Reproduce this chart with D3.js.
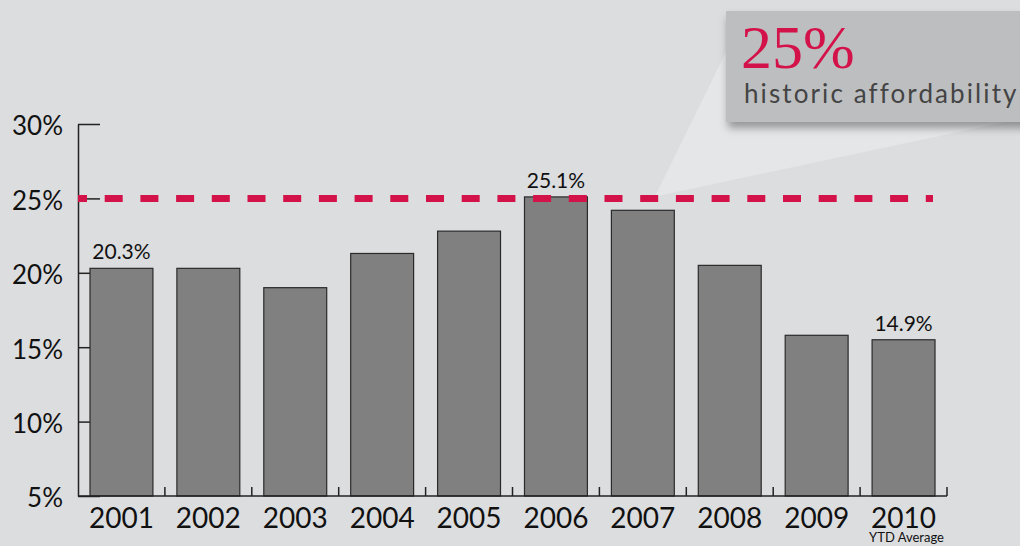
<!DOCTYPE html>
<html>
<head>
<meta charset="utf-8">
<script src="https://cdn.jsdelivr.net/npm/d3@7"></script>
<style>
  body { margin: 0; background: #dcdddf; }
  svg { display: block; }
  text { font-family: "Lato", "Open Sans", sans-serif; fill: #111; }
</style>
</head>
<body>
<script>
const w = 1020, h = 546;

// data
const years = ["2001", "2002", "2003", "2004", "2005", "2006", "2007", "2008", "2009", "2010"];
const values = [20.3, 20.3, 19.0, 21.3, 22.8, 25.1, 24.2, 20.5, 15.8, 15.5];
const valueLabels = {"2001": "20.3%", "2006": "25.1%", "2010": "14.9%"};
const yTicks = [5, 10, 15, 20, 25, 30];
const historic = 25;

const red = "#d4124a";

const svg = d3.select("body")
  .append("svg")
  .attr("width", w)
  .attr("height", h);

svg.append("rect").attr("width", w).attr("height", h).attr("fill", "#dcdddf");

const xScale = d3.scaleBand()
  .domain(years)
  .range([78, 947])
  .paddingInner(0.276)
  .paddingOuter(0.138);

const yScale = d3.scaleLinear()
  .domain([5, 30])
  .range([496, 124]);

// callout wedge pointing at the dashed line
const apex = [655, yScale(historic) - 2];
svg.append("polygon")
  .attr("points", [[726, 52], apex, [1005, 122], [726, 122]].map(p => p.join(",")).join(" "))
  .attr("fill", "#e5e6e8");

// callout box with shadow
const defs = svg.append("defs");
const f = defs.append("filter").attr("id", "shadow").attr("x", "-10%").attr("y", "-10%").attr("width", "130%").attr("height", "150%");
f.append("feDropShadow").attr("dx", 2).attr("dy", 6).attr("stdDeviation", 4).attr("flood-color", "#000").attr("flood-opacity", 0.35);

svg.append("rect")
  .attr("x", 726).attr("y", 11)
  .attr("width", 310).attr("height", 111)
  .attr("fill", "#bdbec0")
  .attr("filter", "url(#shadow)");

svg.append("text")
  .attr("x", 741).attr("y", 68)
  .style("font-family", "'Liberation Serif', 'DejaVu Serif', serif")
  .style("font-size", "62px")
  .style("fill", red)
  .text("25%");

svg.append("text")
  .attr("x", 744).attr("y", 103)
  .style("font-size", "26px")
  .style("letter-spacing", "2.1px")
  .style("fill", "#444")
  .text("historic affordability");

// y axis
const yAxis = d3.axisLeft(yScale)
  .tickValues(yTicks)
  .tickFormat(d => d + "%")
  .tickSizeInner(-22)
  .tickSizeOuter(0)
  .tickPadding(15);

const gy = svg.append("g")
  .attr("id", "y-axis")
  .attr("transform", "translate(78,0)")
  .call(yAxis);
gy.select(".domain").attr("stroke", "#222").attr("stroke-width", 1.5);
gy.selectAll(".tick line").attr("stroke", "#222").attr("stroke-width", 1.5);
gy.selectAll(".tick text")
  .style("font-size", "26px")
  .attr("dy", "0.42em")
  .attr("fill", "#111");

// bars
svg.selectAll("rect.bar")
  .data(years)
  .enter()
  .append("rect")
  .attr("class", "bar")
  .attr("x", d => xScale(d))
  .attr("y", (d, i) => yScale(values[i]))
  .attr("width", xScale.bandwidth())
  .attr("height", (d, i) => yScale(5) - yScale(values[i]))
  .attr("fill", "#808080")
  .attr("stroke", "#2a2a2a")
  .attr("stroke-width", 1.2);

// bottom axis line with ticks between the bars
const step = xScale.step();
svg.append("line")
  .attr("x1", 78).attr("x2", 947)
  .attr("y1", yScale(5)).attr("y2", yScale(5))
  .attr("stroke", "#222").attr("stroke-width", 1.5);

svg.selectAll("line.xtick")
  .data(years)
  .enter()
  .append("line")
  .attr("class", "xtick")
  .attr("x1", d => xScale(d) + xScale.bandwidth() + step * xScale.paddingInner() / 2)
  .attr("x2", d => xScale(d) + xScale.bandwidth() + step * xScale.paddingInner() / 2)
  .attr("y1", yScale(5))
  .attr("y2", yScale(5) - 9)
  .attr("stroke", "#222").attr("stroke-width", 1.5);

svg.selectAll("text.year")
  .data(years)
  .enter()
  .append("text")
  .attr("class", "year")
  .attr("x", d => xScale(d) + xScale.bandwidth() / 2)
  .attr("y", 528)
  .attr("text-anchor", "middle")
  .style("font-size", "28px")
  .text(d => d);

svg.append("text")
  .attr("x", xScale("2010") + xScale.bandwidth() / 2 + 3)
  .attr("y", 542)
  .attr("text-anchor", "middle")
  .style("font-size", "13px")
  .text("YTD Average");

// value labels
svg.selectAll("text.value")
  .data(years.filter(d => valueLabels[d]))
  .enter()
  .append("text")
  .attr("class", "value")
  .attr("x", d => xScale(d) + xScale.bandwidth() / 2)
  .attr("y", d => yScale(values[years.indexOf(d)]) - 9)
  .attr("text-anchor", "middle")
  .style("font-size", "21px")
  .text(d => valueLabels[d]);

// historic affordability dashed line
svg.append("line")
  .attr("x1", 78).attr("x2", 933)
  .attr("y1", yScale(historic)).attr("y2", yScale(historic))
  .attr("stroke", red)
  .attr("stroke-width", 7)
  .attr("stroke-dasharray", "18,17.7")
  .attr("stroke-dashoffset", 9);
</script>
</body>
</html>
